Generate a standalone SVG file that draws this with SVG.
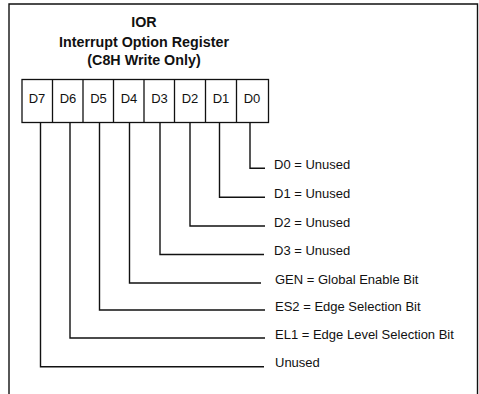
<svg xmlns="http://www.w3.org/2000/svg" width="479" height="394" viewBox="0 0 479 394">
<style>
.t{font-family:"Liberation Sans",Arial,sans-serif;font-weight:bold;font-size:14.3px;text-anchor:middle;fill:#111}
.c{font-family:"Liberation Sans",Arial,sans-serif;font-size:13px;text-anchor:middle;fill:#111}
.l{font-family:"Liberation Sans",Arial,sans-serif;font-size:13px;fill:#111}
.box{fill:none;stroke:#111;stroke-width:1.3}
.w{fill:none;stroke:#111;stroke-width:1.4}
</style>
<rect width="479" height="394" fill="#fff"/>
<path class="w" d="M9,400 V4 H477.5 V400"/>
<g id="title">
<text class="t" x="144" y="27">IOR</text>
<text class="t" x="144" y="46.5">Interrupt Option Register</text>
<text class="t" x="144" y="65">(C8H Write Only)</text>
</g>
<g id="register">
<rect class="box" x="22" y="79.5" width="246.5" height="43"/>
<path class="box" d="M52.5,79.5V122.5M83,79.5V122.5M113.5,79.5V122.5M144,79.5V122.5M174.5,79.5V122.5M205.5,79.5V122.5M236.5,79.5V122.5"/>
<text class="c" x="37" y="103">D7</text>
<text class="c" x="68" y="103">D6</text>
<text class="c" x="98.5" y="103">D5</text>
<text class="c" x="129" y="103">D4</text>
<text class="c" x="159.5" y="103">D3</text>
<text class="c" x="190" y="103">D2</text>
<text class="c" x="221" y="103">D1</text>
<text class="c" x="252" y="103">D0</text>
</g>
<g id="connectors" class="w">
<path d="M250,122.5V168.3H265"/>
<path d="M219.5,122.5V197.3H265"/>
<path d="M190,122.5V226H265"/>
<path d="M160,122.5V254.5H264"/>
<path d="M129.5,122.5V283H261"/>
<path d="M99.5,122.5V310H265"/>
<path d="M70,122.5V338H265"/>
<path d="M40.5,122.5V366.7H264"/>
</g>
<g id="labels">
<text class="l" x="274" y="168.5">D0 = Unused</text>
<text class="l" x="274" y="197.5">D1 = Unused</text>
<text class="l" x="274" y="226.5">D2 = Unused</text>
<text class="l" x="274" y="255">D3 = Unused</text>
<text class="l" x="275" y="283.5">GEN = Global Enable Bit</text>
<text class="l" x="275" y="310.5">ES2 = Edge Selection Bit</text>
<text class="l" x="275" y="338.5">EL1 = Edge Level Selection Bit</text>
<text class="l" x="275" y="367">Unused</text>
</g>
</svg>
